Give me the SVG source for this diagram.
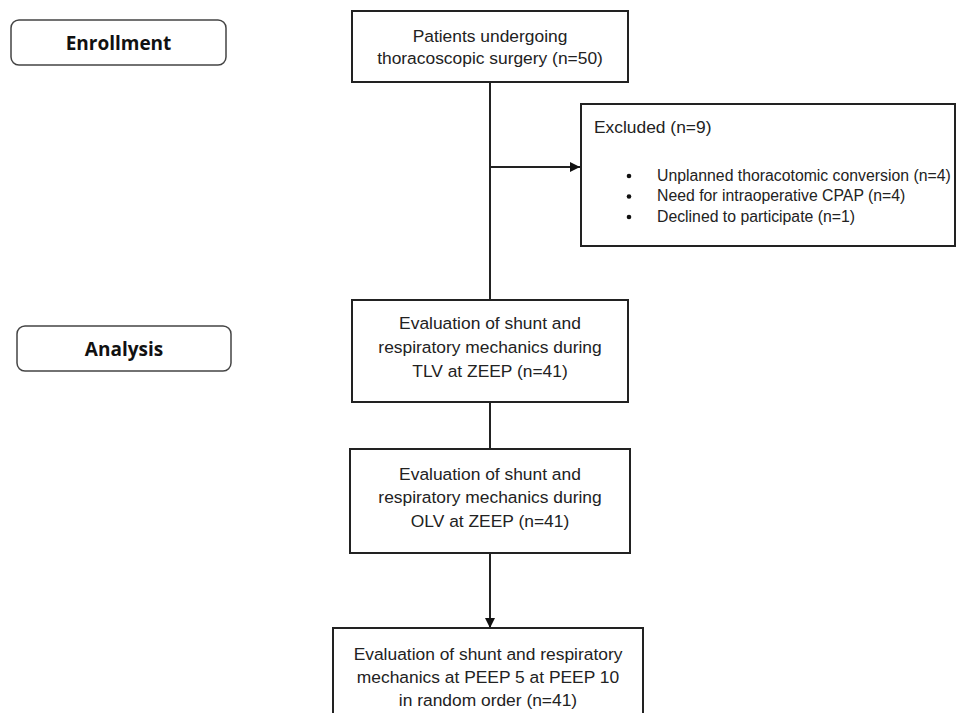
<svg xmlns="http://www.w3.org/2000/svg" width="957" height="713" viewBox="0 0 957 713">
<style>
.box{fill:#fff;stroke:#222;stroke-width:2}
.lbl{fill:#fff;stroke:#444;stroke-width:1.5}
.t{font-family:"Liberation Sans",Arial,sans-serif;font-size:17.4px;fill:#222}
.s{font-size:15.8px}
.c{text-anchor:middle}
.h{font-family:"Open Sans","Noto Sans",sans-serif;font-weight:bold;font-size:19px;fill:#111;text-anchor:middle}
.ln{stroke:#222;stroke-width:2;fill:none}
</style>
<defs>
<marker id="ah" markerWidth="10" markerHeight="10" refX="10" refY="5" orient="auto" markerUnits="userSpaceOnUse">
<path d="M0,0 L10,5 L0,10 Z" fill="#111"/>
</marker>
</defs>
<rect width="957" height="713" fill="#fff"/>
<g id="enrollment">
<rect class="lbl" x="11" y="20" width="215" height="45" rx="8"/>
<text class="h" x="118.5" y="49.5">Enrollment</text>
</g>
<g id="analysis">
<rect class="lbl" x="17" y="326" width="214" height="45" rx="8"/>
<text class="h" x="124" y="355.5">Analysis</text>
</g>
<g id="connectors">
<line class="ln" x1="490" y1="82" x2="490" y2="300"/>
<line class="ln" x1="490" y1="167" x2="580" y2="167" marker-end="url(#ah)"/>
<line class="ln" x1="490" y1="402" x2="490" y2="449"/>
<line class="ln" x1="490" y1="553" x2="490" y2="628" marker-end="url(#ah)"/>
</g>
<g id="patients">
<rect class="box" x="352" y="11" width="276" height="71"/>
<text class="t c" x="490" y="42">Patients undergoing</text>
<text class="t c" x="490" y="64">thoracoscopic surgery (n=50)</text>
</g>
<g id="excluded">
<rect class="box" x="581" y="104" width="374" height="142"/>
<text class="t" x="594" y="133">Excluded (n=9)</text>
<circle cx="629" cy="176" r="2.3" fill="#111"/>
<circle cx="629" cy="196.5" r="2.3" fill="#111"/>
<circle cx="629" cy="217" r="2.3" fill="#111"/>
<text class="t s" x="657" y="181">Unplanned thoracotomic conversion (n=4)</text>
<text class="t s" x="657" y="201">Need for intraoperative CPAP (n=4)</text>
<text class="t s" x="657" y="222">Declined to participate (n=1)</text>
</g>
<g id="tlv">
<rect class="box" x="352" y="300" width="276" height="102"/>
<text class="t c" x="490" y="329">Evaluation of shunt and</text>
<text class="t c" x="490" y="353">respiratory mechanics during</text>
<text class="t c" x="490" y="377">TLV at ZEEP (n=41)</text>
</g>
<g id="olv">
<rect class="box" x="350" y="449" width="280" height="104"/>
<text class="t c" x="490" y="480">Evaluation of shunt and</text>
<text class="t c" x="490" y="503">respiratory mechanics during</text>
<text class="t c" x="490" y="527">OLV at ZEEP (n=41)</text>
</g>
<g id="peep">
<rect class="box" x="333" y="628" width="310" height="95"/>
<text class="t c" x="488" y="660">Evaluation of shunt and respiratory</text>
<text class="t c" x="488" y="683">mechanics at PEEP 5 at PEEP 10</text>
<text class="t c" x="488" y="706">in random order (n=41)</text>
</g>
</svg>
